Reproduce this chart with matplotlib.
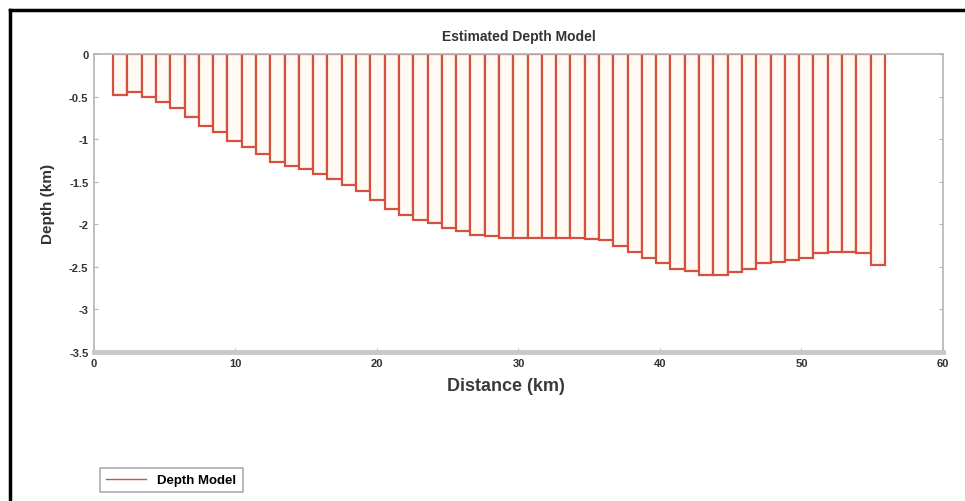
import matplotlib
matplotlib.use("Agg")
import matplotlib.pyplot as plt
from matplotlib.lines import Line2D

plt.rcParams["font.family"] = ["Liberation Sans", "DejaVu Sans"]

# left edge of each prism (km) and its depth (km)
distance = [1.35, 2.36, 3.37, 4.38, 5.39, 6.40, 7.41, 8.42, 9.43, 10.44,
            11.45, 12.46, 13.47, 14.48, 15.49, 16.50, 17.51, 18.52, 19.53, 20.54,
            21.55, 22.56, 23.57, 24.58, 25.59, 26.60, 27.61, 28.62, 29.63, 30.64,
            31.65, 32.66, 33.67, 34.68, 35.69, 36.70, 37.71, 38.72, 39.73, 40.74,
            41.75, 42.76, 43.77, 44.78, 45.79, 46.80, 47.81, 48.82, 49.83, 50.84,
            51.85, 52.86, 53.87, 54.88]
depth = [-0.48, -0.45, -0.51, -0.56, -0.63, -0.74, -0.84, -0.92, -1.02, -1.09,
         -1.18, -1.27, -1.31, -1.35, -1.41, -1.47, -1.54, -1.61, -1.72, -1.82,
         -1.89, -1.95, -1.99, -2.04, -2.08, -2.12, -2.14, -2.16, -2.16, -2.16,
         -2.16, -2.16, -2.16, -2.17, -2.19, -2.25, -2.32, -2.40, -2.46, -2.52,
         -2.55, -2.60, -2.60, -2.56, -2.52, -2.46, -2.44, -2.42, -2.40, -2.34,
         -2.32, -2.32, -2.34, -2.48]
prism_width = 1.01

x_ticks = [0, 10, 20, 30, 40, 50, 60]
y_ticks = [0, -0.5, -1, -1.5, -2, -2.5, -3, -3.5]
y_tick_labels = ["0", "-0.5", "-1", "-1.5", "-2", "-2.5", "-3", "-3.5"]

EDGE = "#d4503f"
SPINE = "#b4b4b4"

fig = plt.figure(figsize=(9.65, 5.02), dpi=100)
ax = fig.add_axes([0.0974, 0.2968, 0.8798, 0.5936])

ax.bar(distance, depth, width=prism_width, align="edge",
       facecolor="#fffaf3", edgecolor=EDGE, linewidth=1.6, zorder=2)

ax.set_xlim(0, 60)
ax.set_ylim(-3.5, 0)
ax.set_xticks(x_ticks)
ax.set_yticks(y_ticks)
ax.set_yticklabels(y_tick_labels)
ax.tick_params(direction="in", length=3, width=0.8, color=SPINE,
               labelsize=8, top=False, right=True, pad=4)
for lab in ax.get_xticklabels() + ax.get_yticklabels():
    lab.set_fontweight("bold")
    lab.set_color("#333333")

for side in ["left", "right", "top"]:
    ax.spines[side].set_color(SPINE)
    ax.spines[side].set_linewidth(1.2)
ax.spines["bottom"].set_color("#c8c8c8")
ax.spines["bottom"].set_linewidth(3.5)

ax.set_title("Estimated Depth Model", fontsize=10, fontweight="bold",
             color="#333333", pad=10)
ax.set_xlabel("Distance (km)", fontsize=13, fontweight="bold",
              color="#3a3a3a", labelpad=8)
ax.xaxis.set_label_coords(0.485, -0.085)
ax.set_ylabel("Depth (km)", fontsize=11, fontweight="bold",
              color="#333333", labelpad=10)

# legend sits below the axes, lower left of the figure
handle = Line2D([], [], color=EDGE, linewidth=1.0)
leg = fig.legend([handle], ["Depth Model"], loc="lower left",
                 bbox_to_anchor=(0.101, 0.012), prop={"size": 9.5, "weight": "bold"},
                 frameon=True, fancybox=False, handlelength=3.0,
                 handletextpad=0.9, borderpad=0.45, borderaxespad=0.2,
                 edgecolor="#999999")
leg.get_frame().set_linewidth(1.2)

# outer frame of the original figure
fig.add_artist(Line2D([0.0105, 0.0105], [0.0, 0.978], transform=fig.transFigure,
                      color="black", linewidth=2.5))
fig.add_artist(Line2D([0.0105, 1.0], [0.978, 0.978], transform=fig.transFigure,
                      color="black", linewidth=2.5))

plt.savefig("out.png", dpi=100)
plt.close()
